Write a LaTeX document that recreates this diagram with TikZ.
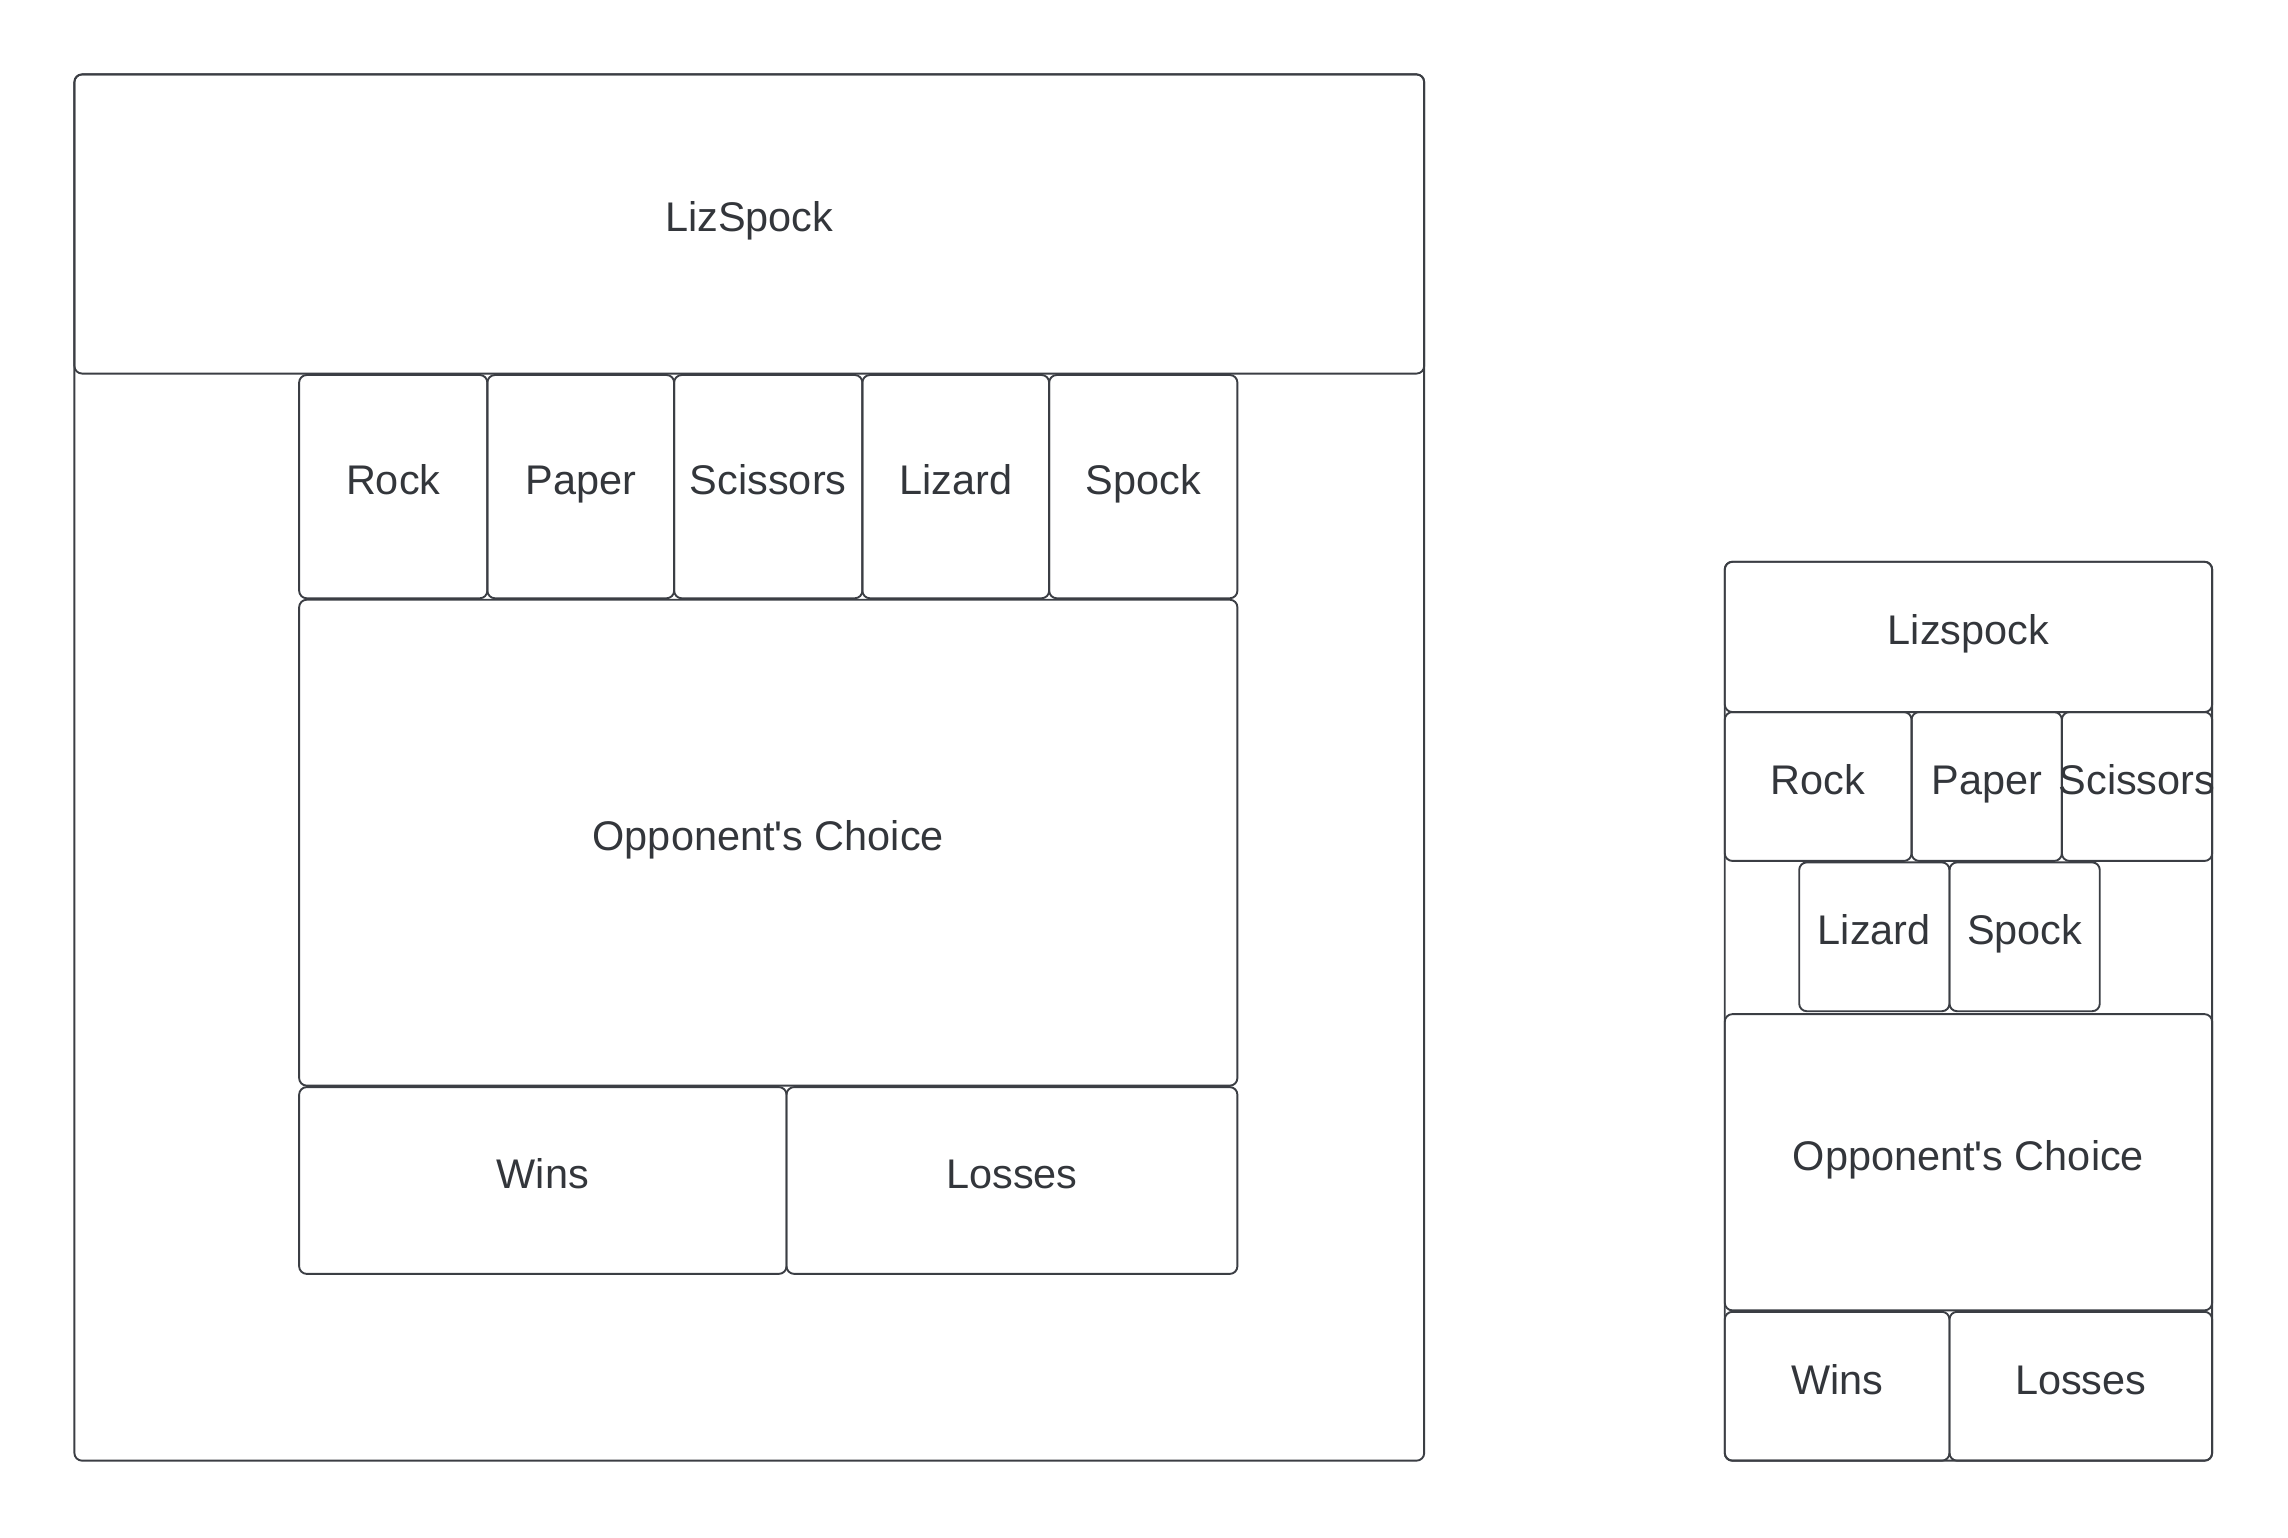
\documentclass[tikz,border=0pt]{standalone}
\usepackage{fontspec}
\setmainfont{Liberation Sans}[Ligatures=TeXOff]
\definecolor{ink}{HTML}{3B3E44}
\definecolor{txt}{HTML}{33363B}
\tikzset{
  cellbox/.style={draw=ink, line width=0.65pt, rounded corners=2.6pt, inner sep=0pt, outer sep=0pt},
  celltext/.style={text=txt, inner sep=0pt, text height=0.77em, text depth=0.23em,
    font=\fontsize{14.2}{17}\selectfont},
}
% #1 name, #2 x1, #3 y1, #4 x2, #5 y2, #6 text  (units: reference pixels at 1568 scale)
\newcommand{\cellbx}[6]{%
  \node[cellbox, minimum width={(#4-#2)*0.5pt}, minimum height={(#5-#3)*0.5pt}]
    (#1) at ({(#2+#4)/2},{(#3+#5)/2}) {};
  \node[celltext] (#1t) at (#1.center) {#6};
}
\begin{document}
\begin{tikzpicture}[x=0.5pt, y=-0.5pt]
\useasboundingbox (0,0) rectangle (1568,1054);
% ---- left panel ----
\cellbx{Louter}{51}{51}{976}{1001}{}
\cellbx{Lhead}{51}{51}{976}{256}{LizSpock}
\cellbx{Lrock}{205}{257}{334}{410}{Rock}
\cellbx{Lpaper}{334}{257}{462}{410}{Paper}
\cellbx{Lsciss}{462}{257}{591}{410}{Scissors}
\cellbx{Llizard}{591}{257}{719}{410}{Lizard}
\cellbx{Lspock}{719}{257}{848}{410}{Spock}
\cellbx{Lopp}{205}{411}{848}{744}{Opponent's Choice}
\cellbx{Lwins}{205}{745}{539}{873}{Wins}
\cellbx{Llosses}{539}{745}{848}{873}{Losses}
% ---- right panel ----
\cellbx{Router}{1182}{385}{1516}{1001}{}
\cellbx{Rhead}{1182}{385}{1516}{488}{Lizspock}
\cellbx{Rrock}{1182}{488}{1310}{590}{Rock}
\cellbx{Rpaper}{1310}{488}{1413}{590}{Paper}
\cellbx{Rsciss}{1413}{488}{1516}{590}{Scissors}
\cellbx{Rlizard}{1233}{591}{1336}{693}{Lizard}
\cellbx{Rspock}{1336}{591}{1439}{693}{Spock}
\cellbx{Ropp}{1182}{695}{1516}{898}{Opponent's Choice}
\cellbx{Rwins}{1182}{899}{1336}{1001}{Wins}
\cellbx{Rlosses}{1336}{899}{1516}{1001}{Losses}
\end{tikzpicture}
\end{document}
